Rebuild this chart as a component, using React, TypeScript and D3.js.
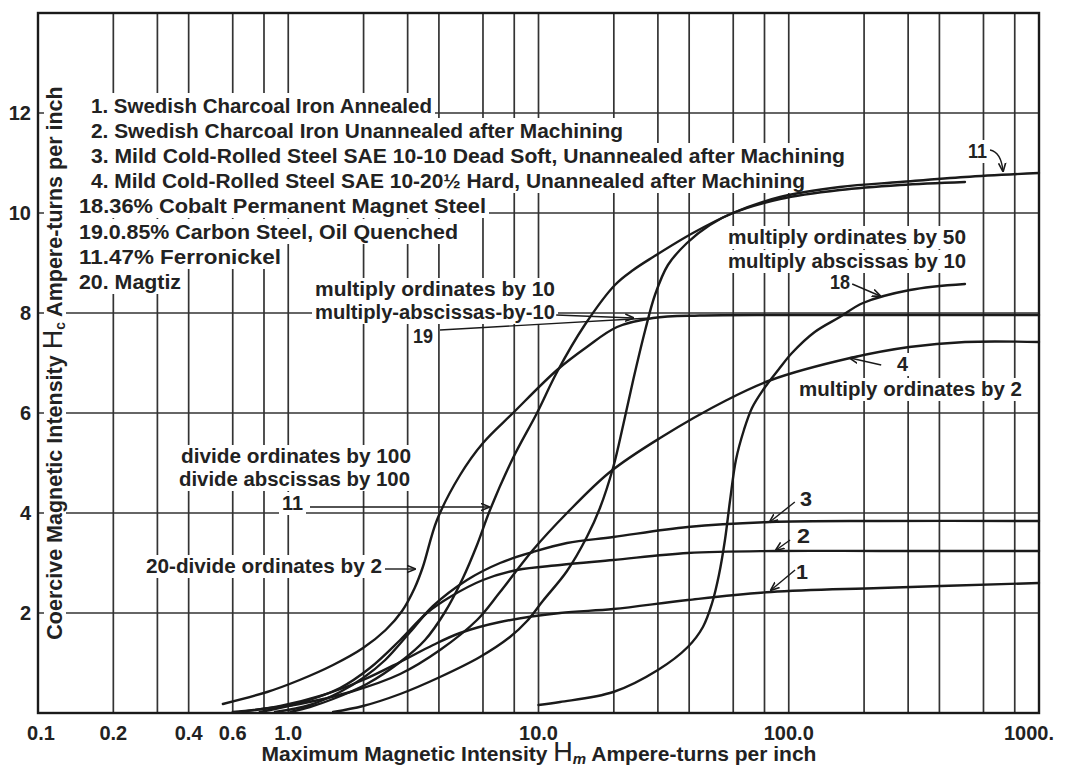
import React from 'react';
import * as d3 from 'd3';

type Pt = [number, number];

// Plotted abscissa (Hm, log scale) and plotted ordinate (Hc)
const curve1: Pt[] = [[0.64, 0.02], [0.93, 0.14], [1.34, 0.34], [1.99, 0.66], [2.8, 1.02], [3.79, 1.36], [4.86, 1.6], [7.02, 1.82], [12.2, 2.0], [19.9, 2.08], [39.5, 2.26], [85, 2.42], [232, 2.5], [1000, 2.6]];
const curve2: Pt[] = [[0.77, 0.02], [1.11, 0.2], [1.61, 0.5], [2.12, 0.9], [2.8, 1.46], [3.58, 2.0], [4.43, 2.32], [6.0, 2.66], [8.2, 2.86], [12.2, 2.96], [19.9, 3.06], [39.5, 3.2], [89, 3.24], [232, 3.24], [1000, 3.24]];
const curve3: Pt[] = [[0.885, 0.02], [1.22, 0.16], [1.61, 0.42], [1.99, 0.7], [2.44, 1.06], [3.07, 1.62], [3.79, 2.14], [5.18, 2.66], [7.02, 3.0], [9.5, 3.22], [13.0, 3.4], [19.9, 3.52], [39.5, 3.72], [84, 3.82], [232, 3.84], [1000, 3.84]];
const curve4: Pt[] = [[0.6, 0.02], [1.11, 0.18], [1.77, 0.42], [2.8, 0.78], [4.04, 1.26], [5.68, 1.86], [7.02, 2.42], [9.5, 3.26], [13.0, 4.0], [19.3, 4.82], [30.6, 5.5], [56.6, 6.26], [85, 6.66], [176, 7.1], [303, 7.32], [506, 7.42], [1000, 7.42]];
const curve18: Pt[] = [[10, 0.16], [12.2, 0.22], [19.9, 0.42], [30, 0.86], [39.5, 1.32], [45.4, 1.72], [49.4, 2.2], [52.6, 2.76], [55.6, 3.46], [58.3, 4.26], [61.5, 5.06], [66.2, 5.66], [71.3, 6.1], [78.9, 6.46], [92, 6.9], [103, 7.2], [127, 7.62], [160, 7.92], [198, 8.2], [305, 8.46], [506, 8.58]];
const curve19: Pt[] = [[0.548, 0.18], [0.823, 0.42], [1.11, 0.66], [1.51, 0.96], [1.99, 1.3], [2.45, 1.66], [2.85, 2.04], [3.2, 2.5], [3.45, 2.92], [3.93, 3.86], [4.86, 4.76], [6.0, 5.4], [7.91, 6.0], [11.86, 6.86], [15.6, 7.32], [20.6, 7.72], [28.7, 7.9], [44, 7.95], [111, 7.96], [1000, 7.96]];
const curve11: Pt[] = [[1.02, 0.02], [1.22, 0.12], [1.51, 0.28], [2.06, 0.58], [2.8, 1.02], [3.52, 1.46], [4.23, 2.02], [4.99, 2.7], [5.68, 3.36], [6.4, 4.06], [7.91, 5.1], [9.86, 6.0], [11.86, 6.82], [15.3, 7.76], [20.2, 8.56], [23.9, 8.86], [28.7, 9.12], [41.4, 9.6], [59.8, 10.0], [92.3, 10.32], [160, 10.52], [279, 10.62], [506, 10.72], [1000, 10.8]];
const curve20: Pt[] = [[1.51, 0.02], [1.99, 0.14], [2.8, 0.38], [4.04, 0.72], [5.83, 1.12], [7.69, 1.52], [9.0, 1.84], [10.4, 2.24], [13.0, 2.84], [15.6, 3.52], [17.6, 4.1], [19.9, 4.92], [21.8, 5.76], [23.9, 6.66], [26.7, 7.66], [29.2, 8.36], [32.9, 8.96], [39.2, 9.4], [48.4, 9.76], [59.8, 10.0], [92.3, 10.28], [160, 10.46], [279, 10.56], [506, 10.62]];

const xTickValues = [0.1, 0.2, 0.4, 0.6, 1, 10, 100, 1000];
const xTickLabels = ['0.1', '0.2', '0.4', '0.6', '1.0', '10.0', '100.0', '1000.'];
const xGridValues = [0.2, 0.3, 0.4, 0.6, 0.8, 1, 2, 3, 4, 6, 8, 10, 20, 30, 40, 60, 80, 100, 200, 300, 400, 600, 800];
const yTickValues = [2, 4, 6, 8, 10, 12];

const legendLines = [
  '1. Swedish Charcoal Iron Annealed',
  '2. Swedish Charcoal Iron Unannealed after Machining',
  '3. Mild Cold-Rolled Steel SAE 10-10 Dead Soft, Unannealed after Machining',
  '4. Mild Cold-Rolled Steel SAE 10-20½ Hard, Unannealed after Machining',
  '18.36% Cobalt Permanent Magnet Steel',
  '19.0.85% Carbon Steel, Oil Quenched',
  '11.47%  Ferronickel',
  '20. Magtiz',
];
// layout of the legend lines (start x, width, baseline)
const legendX = [91, 91, 91, 91, 79, 79, 79, 79];
const legendW = [341, 532, 754, 714, 407, 379, 202, 102];
const legendY = [113, 138, 163, 188, 213, 239, 264, 289];

const noteTexts = [
  'multiply ordinates by 10', 'multiply-abscissas-by-10', '19',
  'divide ordinates by 100', 'divide abscissas by 100', '11',
  '20-divide ordinates by 2', 'multiply ordinates by 50', 'multiply abscissas by 10',
  '18', '11', '4', 'multiply ordinates by 2', '3', '2', '1',
];
const noteLayout: [number, number, number][] = [
  [315, 296, 240], [315, 319, 240], [413, 343, 20],
  [181, 463, 230], [179, 486, 231], [282, 510, 21],
  [146, 573, 236], [728, 244, 238], [728, 268, 238],
  [830, 289, 20], [968, 158, 19], [897, 371, 11], [799, 396, 223],
  [800, 506, 12], [797, 543, 13], [796, 579, 12],
];

// arrow tips (data coords) and tail offsets (px)
const arrowTips: Pt[] = [[6.34, 4.12], [3.21, 2.88], [23.9, 7.9], [232, 8.34], [176, 7.1], [84, 3.82], [89, 3.26], [85, 2.46]];
const arrowTails: Pt[] = [[-179, 0], [-30, 0], [-77, -3], [-28, -12], [31, 7], [25, -20], [14, -10], [24, -20]];

export default function App() {
  const W = 1070, H = 770;
  const x = d3.scaleLog().domain([0.1, 1000]).range([38, 1039]);
  const y = d3.scaleLinear().domain([0, 14]).range([713, 13]);
  const line = d3.line<Pt>().x(d => x(d[0])).y(d => y(d[1])).curve(d3.curveCatmullRom.alpha(0.5));
  const series = [curve1, curve2, curve3, curve4, curve18, curve19, curve11, curve20];
  const font = "'Liberation Sans', Arial, sans-serif";
  const ink = '#1a1a1a';
  const grid = '#333';
  const fs = 20;

  const leader19Tip: Pt = [27.9, 7.9];
  const topTip: Pt = [718, 10.84];

  return (
    <svg width={W} height={H} style={{ position: 'absolute', left: 0, top: 0, background: '#fff' }}>
      <defs>
        <marker id="ah" viewBox="0 0 10 10" refX="9" refY="5" markerWidth="9" markerHeight="9" markerUnits="userSpaceOnUse" orient="auto">
          <path d="M0,1 L10,5 L0,9" fill="none" stroke={ink} strokeWidth={1.8} />
        </marker>
      </defs>
      <rect x={0} y={0} width={W} height={H} fill="#fff" />

      {/* grid */}
      {xGridValues.map(v => (
        <line key={'gx' + v} x1={x(v)} x2={x(v)} y1={y(14)} y2={y(0)} stroke={grid} strokeWidth={1.7} />
      ))}
      {yTickValues.map(v => (
        <line key={'gy' + v} x1={x(0.1)} x2={x(1000)} y1={y(v)} y2={y(v)} stroke={grid} strokeWidth={1.7} />
      ))}

      {/* white masks behind text on the grid */}
      <rect x={44} y={88} width={22} height={552} fill="#fff" />
      {legendLines.map((t, i) => (
        <rect key={'lm' + i} x={66} y={legendY[i] - 20} width={legendX[i] + legendW[i] + 3 - 66} height={25} fill="#fff" />
      ))}
      {noteTexts.map((t, i) => {
        const [nx, ny, nw] = noteLayout[i];
        return <rect key={'nm' + i} x={nx - 3} y={ny - 18} width={nw + 6} height={23} fill="#fff" />;
      })}

      {/* frame */}
      <rect x={x(0.1)} y={y(14)} width={x(1000) - x(0.1)} height={y(0) - y(14)} fill="none" stroke={ink} strokeWidth={2.4} />

      {/* curves */}
      {series.map((s, i) => (
        <path key={'c' + i} d={line(s) || ''} fill="none" stroke={ink} strokeWidth={2.4} strokeLinejoin="round" strokeLinecap="round" />
      ))}

      {/* arrows */}
      {arrowTips.map((t, i) => {
        const tx = x(t[0]), ty = y(t[1]);
        return <line key={'a' + i} x1={tx + arrowTails[i][0]} y1={ty + arrowTails[i][1]} x2={tx} y2={ty} stroke={ink} strokeWidth={1.4} markerEnd="url(#ah)" />;
      })}
      <line x1={x(leader19Tip[0]) - 210} y1={y(leader19Tip[1]) + 12} x2={x(leader19Tip[0])} y2={y(leader19Tip[1])} stroke={ink} strokeWidth={1.4} />
      <path d={`M${x(topTip[0]) - 13},${y(topTip[1]) - 21} Q${x(topTip[0]) - 2},${y(topTip[1]) - 19} ${x(topTip[0])},${y(topTip[1])}`} fill="none" stroke={ink} strokeWidth={1.4} markerEnd="url(#ah)" />

      {/* legend and notes */}
      <g fontFamily={font} fontWeight="bold" fontSize={fs} fill="#222">
        {legendLines.map((t, i) => (
          <text key={'l' + i} x={legendX[i]} y={legendY[i]} textLength={legendW[i]} lengthAdjust="spacingAndGlyphs">{t}</text>
        ))}
        {noteTexts.map((t, i) => {
          const [nx, ny, nw] = noteLayout[i];
          return <text key={'n' + i} x={nx} y={ny} textLength={nw} lengthAdjust="spacingAndGlyphs">{t}</text>;
        })}
      </g>

      {/* axis tick labels */}
      <g fontFamily={font} fontWeight="bold" fontSize={fs} fill="#222">
        {xTickValues.map((v, i) => (
          <text key={'xt' + i} x={x(v) + (i === 0 ? 3 : i === 7 ? -10 : 0)} y={740} textAnchor="middle">{xTickLabels[i]}</text>
        ))}
        {yTickValues.map(v => (
          <text key={'yt' + v} x={31} y={y(v) + 7} textAnchor="end">{v}</text>
        ))}
      </g>

      {/* axis titles */}
      <text x={539} y={761} textAnchor="middle" fontFamily={font} fontWeight="bold" fontSize={21} fill="#222">
        Maximum Magnetic Intensity <tspan fontSize={27} fontWeight="normal">H</tspan><tspan fontSize={15} fontStyle="italic" dy={3}>m</tspan><tspan dy={-3}> Ampere-turns per inch</tspan>
      </text>
      <text transform={`translate(62,${363}) rotate(-90)`} x={0} y={0} textAnchor="middle" fontFamily={font} fontWeight="bold" fontSize={21.5} fill="#222">
        Coercive Magnetic Intensity <tspan fontSize={27} fontWeight="normal">H</tspan><tspan fontSize={14} dy={3}>c</tspan><tspan dy={-3}> Ampere-turns per inch</tspan>
      </text>
    </svg>
  );
}
